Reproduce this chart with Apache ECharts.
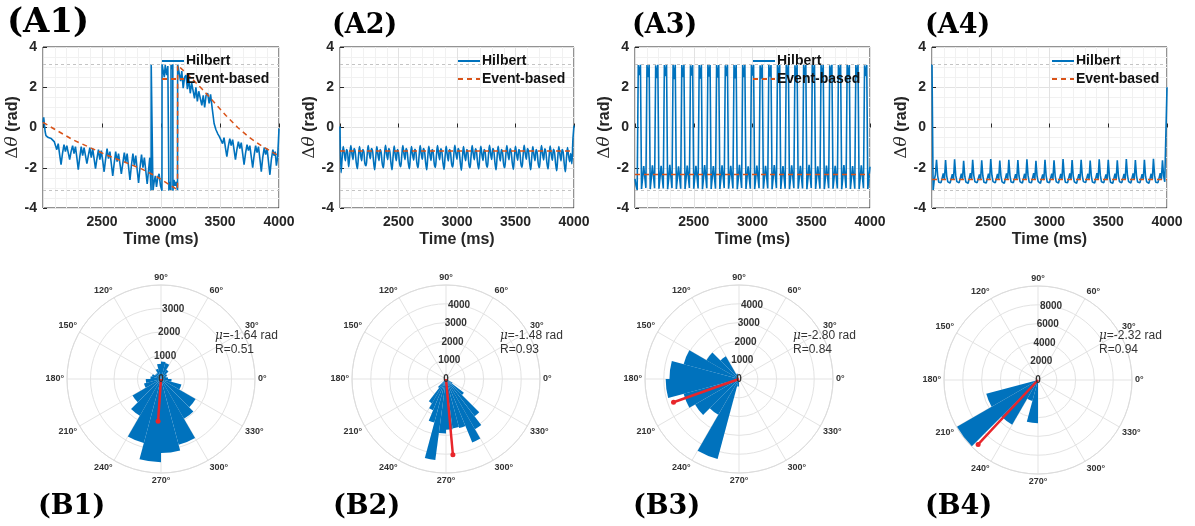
<!DOCTYPE html>
<html>
<head>
<meta charset="utf-8">
<script src="https://cdn.jsdelivr.net/npm/echarts@6/dist/echarts.min.js"></script>
<style>
  html, body { margin: 0; padding: 0; background: #fff; }
  #chart { width: 1195px; height: 526px; }
</style>
</head>
<body>
<div id="chart"></div>
<script>
// ---------- time-domain phase difference (top row) ----------
const TIME_MIN = 2000;
const TIME_MAX = 4000;
const TIME_TICK_LABELS = [2500, 3000, 3500, 4000];
const PHASE_MIN = -4, PHASE_MAX = 4, PHASE_STEP = 2;

// A1: Hilbert phase difference, [time ms, rad]
const A1_HILBERT = [
  [2000,0.25],[2006,0.5],[2012,0.45],[2018,-0.2],[2025,-0.4],[2045,-0.5],[2070,-0.55],[2095,-0.7],
  [2105,-0.75],[2117,-1.1],[2129,-0.8],[2141,-1.35],[2153,-1.85],[2165,-1.3],
  [2178,-0.85],[2190,-1.2],[2202,-0.9],[2214,-1.25],[2226,-1.6],[2238,-1.2],
  [2251,-0.9],[2263,-1.3],[2275,-0.95],[2287,-1.5],[2299,-2.1],[2311,-1.5],
  [2324,-0.95],[2336,-1.4],[2348,-1.0],[2360,-1.4],[2372,-1.8],[2384,-1.4],
  [2397,-1.0],[2409,-1.5],[2421,-1.05],[2433,-1.55],[2445,-2.05],[2457,-1.55],
  [2470,-1.1],[2482,-1.6],[2494,-1.15],[2506,-1.65],[2518,-2.2],[2530,-1.6],
  [2543,-1.05],[2555,-1.55],[2567,-1.2],[2579,-1.8],[2591,-2.4],[2603,-1.8],
  [2616,-1.2],[2628,-1.7],[2640,-1.3],[2652,-1.8],[2664,-2.3],[2676,-1.8],
  [2689,-1.25],[2701,-1.75],[2713,-1.3],[2725,-1.95],[2737,-2.6],[2749,-1.9],
  [2762,-1.3],[2774,-1.9],[2786,-1.4],[2798,-2.1],[2810,-2.75],[2822,-2.0],
  [2835,-1.35],[2847,-2.0],[2859,-1.5],[2871,-2.15],[2883,-2.8],[2895,-2.1],
  [2905,-1.5],[2912,-2.6],[2916,-3.14],[2917,3.14],[2931,3.14],[2932,-3.14],
  [2942,-2.7],[2952,-2.4],[2962,-2.95],[2972,-2.5],[2984,-2.3],[2996,-2.9],
  [3008,-3.14],[3009,3.14],[3020,3.1],[3028,2.5],[3036,3.1],[3048,2.6],[3058,3.05],
  [3066,3.14],[3067,-3.14],[3076,-2.7],[3084,-3.14],[3085,3.14],[3094,2.9],[3100,3.14],
  [3101,-3.14],[3110,-2.6],[3120,-2.9],[3130,-2.7],[3140,-3.14],[3141,3.14],
  [3155,3.1],[3166,2.3],[3176,2.8],[3188,1.95],[3200,2.5],[3212,2.6],[3224,1.9],
  [3236,2.4],[3248,1.7],[3260,2.2],[3272,2.15],[3284,1.45],[3296,2.0],[3308,1.3],
  [3320,1.8],[3334,1.8],[3346,1.1],[3358,1.6],[3370,1.0],[3382,1.6],[3396,1.7],
  [3408,1.2],[3420,1.65],[3435,0.9],[3450,0.2],[3465,-0.1],[3480,-0.3],[3495,-0.45],
  [3510,-0.45],[3522,-0.8],[3534,-0.5],[3546,-1.0],[3558,-1.45],[3570,-0.95],
  [3583,-0.55],[3595,-0.9],[3607,-0.6],[3619,-1.1],[3631,-1.6],[3643,-1.1],
  [3656,-0.7],[3668,-1.05],[3680,-0.75],[3692,-1.3],[3704,-1.85],[3716,-1.3],
  [3729,-0.85],[3741,-1.15],[3753,-0.9],[3765,-1.45],[3777,-2.0],[3789,-1.4],
  [3802,-0.9],[3814,-1.25],[3826,-0.95],[3838,-1.55],[3850,-2.2],[3862,-1.5],
  [3875,-1.0],[3887,-1.35],[3899,-1.05],[3911,-1.7],[3923,-2.35],[3935,-1.6],
  [3948,-1.1],[3958,-1.4],[3968,-1.2],[3978,-1.9],[3988,-1.5],[3995,-0.7],[4000,-0.05]
];
// A1: event-based phase difference, [time ms, rad]
const A1_EVENT = [
  [2000,0.25],[2256,-0.62],[2540,-1.37],[2825,-2.03],[2967,-2.45],[3140,-3.1],[3141,3.1],
  [3250,2.5],[3350,1.9],[3450,1.25],[3550,0.6],[3650,0.0],[3750,-0.5],[3850,-0.9],[3950,-1.25],[4000,-1.4]
];

// A2-A4: Hilbert phase difference sampled evenly over 2000-4000 ms (rad)
const A2_HILBERT = [
  0.05,-2.25,-1.5,-0.95,-1.3,-1.65,-1.1,-1.25,
  -1.95,-1.4,-0.9,-1.3,-1.6,-1.05,-1.2,-1.75,
  -2.05,-1.45,-0.95,-1.35,-1.65,-1.1,-1.2,-1.8,
  -1.9,-1.4,-0.9,-1.3,-1.55,-1.05,-1.15,-1.7,
  -2.1,-1.5,-0.95,-1.35,-1.65,-1.1,-1.25,-1.8,
  -2.0,-1.4,-0.88,-1.3,-1.6,-1.05,-1.2,-1.75,
  -2.1,-1.45,-0.92,-1.35,-1.65,-1.1,-1.25,-1.8,
  -1.95,-1.4,-0.9,-1.3,-1.6,-1.05,-1.2,-1.75,
  -2.05,-1.45,-0.95,-1.35,-1.62,-1.08,-1.22,-1.78,
  -2.0,-1.42,-0.9,-1.3,-1.58,-1.05,-1.18,-1.72,
  -2.1,-1.48,-0.93,-1.33,-1.64,-1.1,-1.24,-1.8,
  -1.98,-1.4,-0.9,-1.3,-1.6,-1.06,-1.2,-1.75,
  -2.08,-1.46,-0.94,-1.35,-1.66,-1.1,-1.24,-1.8,
  -1.96,-1.4,-0.88,-1.28,-1.58,-1.04,-1.18,-1.72,
  -2.12,-1.5,-0.95,-1.36,-1.65,-1.1,-1.25,-1.82,
  -2.0,-1.42,-0.9,-1.3,-1.6,-1.06,-1.2,-1.76,
  -2.06,-1.46,-0.93,-1.34,-1.64,-1.09,-1.23,-1.79,
  -1.97,-1.4,-0.89,-1.29,-1.59,-1.05,-1.19,-1.74,
  -2.1,-1.48,-0.94,-1.35,-1.66,-1.1,-1.25,-1.81,
  -2.0,-1.42,-0.9,-1.31,-1.6,-1.06,-1.2,-1.75,
  -2.08,-1.46,-0.93,-1.34,-1.63,-1.09,-1.23,-1.79,
  -1.97,-1.4,-0.88,-1.29,-1.58,-1.04,-1.19,-1.73,
  -2.1,-1.48,-0.95,-1.36,-1.65,-1.1,-1.25,-1.8,
  -2.0,-1.43,-0.9,-1.31,-1.61,-1.06,-1.21,-1.76,
  -2.06,-1.46,-0.92,-1.33,-1.63,-1.08,-1.23,-1.78,
  -2.15,-1.5,-0.95,-1.35,-1.66,-1.1,-1.24,-1.8,
  -2.2,-1.55,-1.0,-1.4,-1.7,-1.3,-1.8,-0.6,
  0.1
];
const A2_EVENT = -1.17;

const A3_HILBERT = [
  -2.55,-2.9,-3.1,3.1,2.6,3.12,-3.05,-2.5,
  -1.92,-2.45,-3.0,3.1,2.5,3.11,-3.06,-2.5,
  -1.88,-2.42,-3.02,3.09,2.45,3.12,-3.04,-2.48,
  -1.9,-2.47,-3.03,3.1,2.55,3.1,-3.07,-2.52,
  -1.86,-2.44,-3.01,3.11,2.4,3.12,-3.05,-2.49,
  -1.93,-2.48,-3.04,3.1,2.5,3.11,-3.06,-2.51,
  -1.89,-2.43,-3.0,3.09,2.58,3.1,-3.04,-2.47,
  -1.91,-2.46,-3.03,3.1,2.42,3.12,-3.07,-2.5,
  -1.87,-2.42,-3.02,3.11,2.52,3.11,-3.05,-2.49,
  -1.92,-2.47,-3.04,3.1,2.47,3.1,-3.06,-2.52,
  -1.88,-2.44,-3.01,3.09,2.55,3.12,-3.04,-2.48,
  -1.9,-2.45,-3.03,3.1,2.44,3.11,-3.07,-2.5,
  -1.86,-2.43,-3.0,3.11,2.5,3.1,-3.05,-2.47,
  -1.93,-2.48,-3.04,3.1,2.57,3.12,-3.06,-2.51,
  -1.89,-2.44,-3.02,3.09,2.43,3.11,-3.04,-2.49,
  -1.91,-2.46,-3.03,3.1,2.52,3.1,-3.07,-2.5,
  -1.87,-2.42,-3.01,3.11,2.46,3.12,-3.05,-2.48,
  -1.92,-2.47,-3.04,3.1,2.56,3.11,-3.06,-2.52,
  -1.88,-2.43,-3.02,3.09,2.41,3.1,-3.04,-2.49,
  -1.9,-2.45,-3.03,3.1,2.5,3.12,-3.07,-2.5,
  -1.86,-2.44,-3.0,3.11,2.54,3.11,-3.05,-2.47,
  -1.93,-2.48,-3.04,3.1,2.45,3.1,-3.06,-2.51,
  -1.89,-2.44,-3.02,3.09,2.58,3.12,-3.04,-2.49,
  -1.91,-2.46,-3.03,3.1,2.44,3.11,-3.07,-2.5,
  -1.87,-2.42,-3.01,3.11,2.52,3.1,-3.05,-2.48,
  -1.92,-2.47,-3.04,3.1,2.48,3.12,-3.06,-2.52,
  -1.88,-2.43,-3.02,3.09,2.55,3.11,-3.05,-2.49,
  -1.95
];
const A3_EVENT = -2.33;

const A4_HILBERT = [
  3.14,-3.12,-2.6,-2.35,-1.6,-2.4,-2.72,-2.78,
  -2.74,-2.7,-2.28,-2.58,-1.62,-2.4,-2.7,-2.77,
  -2.76,-2.71,-2.32,-2.6,-1.58,-2.38,-2.69,-2.78,
  -2.75,-2.7,-2.3,-2.57,-1.65,-2.42,-2.71,-2.76,
  -2.77,-2.72,-2.27,-2.59,-1.6,-2.39,-2.7,-2.78,
  -2.74,-2.69,-2.33,-2.61,-1.63,-2.41,-2.72,-2.77,
  -2.76,-2.71,-2.29,-2.58,-1.57,-2.37,-2.69,-2.78,
  -2.75,-2.7,-2.31,-2.6,-1.64,-2.4,-2.7,-2.76,
  -2.77,-2.72,-2.28,-2.57,-1.6,-2.39,-2.71,-2.78,
  -2.74,-2.7,-2.32,-2.59,-1.62,-2.41,-2.7,-2.77,
  -2.76,-2.71,-2.3,-2.6,-1.58,-2.38,-2.72,-2.78,
  -2.75,-2.69,-2.27,-2.58,-1.65,-2.42,-2.69,-2.76,
  -2.77,-2.72,-2.33,-2.61,-1.6,-2.39,-2.71,-2.78,
  -2.74,-2.7,-2.29,-2.57,-1.63,-2.4,-2.7,-2.77,
  -2.76,-2.71,-2.31,-2.6,-1.57,-2.37,-2.72,-2.78,
  -2.75,-2.7,-2.28,-2.59,-1.62,-2.41,-2.7,-2.76,
  -2.77,-2.72,-2.32,-2.58,-1.6,-2.39,-2.69,-2.78,
  -2.74,-2.69,-2.3,-2.6,-1.64,-2.42,-2.71,-2.77,
  -2.76,-2.71,-2.27,-2.57,-1.58,-2.38,-2.7,-2.78,
  -2.75,-2.7,-2.33,-2.61,-1.61,-2.4,-2.72,-2.76,
  -2.77,-2.72,-2.29,-2.58,-1.63,-2.41,-2.7,-2.78,
  -2.74,-2.7,-2.31,-2.59,-1.57,-2.37,-2.69,-2.77,
  -2.76,-2.71,-2.28,-2.6,-1.62,-2.39,-2.71,-2.78,
  -2.75,-2.69,-2.32,-2.57,-1.6,-2.42,-2.7,-2.76,
  -2.77,-2.72,-2.3,-2.59,-1.55,-2.38,-2.72,-2.78,
  -2.74,-2.7,-2.27,-2.6,-1.63,-2.4,-2.7,-2.72,
  2.0
];
const A4_EVENT = -2.58;

// ---------- phase-difference histograms (bottom row) ----------
// counts per bin, bins start at 0 deg and run counter-clockwise
const B1_BIN_DEG = 15;
const B1_COUNTS = [300,250,300,450,700,750,650,450,300,300,400,450,650,750,1400,1800,2820,3540,3150,2900,1950,1700,900,450];
const B1_RMAX = 4000, B1_RSTEP = 1000, B1_MU = -1.64, B1_R = 0.51;

const B2_BIN_DEG = 7.5;
const B2_COUNTS = [0,0,0,0,0,0,0,0,0,0,0,0,0,0,0,0,0,0,0,0,0,0,0,0,0,0,0,0,0,0,
  600,1500,1800,2400,4350,2900,2700,2650,2700,3650,3080,2500,1200,400,0,0,0,0];
const B2_RMAX = 5000, B2_RSTEP = 1000, B2_MU = -1.48, B2_R = 0.93;

const B3_BIN_DEG = 15;
const B3_COUNTS = [0,0,0,0,0,0,0,300,1400,2000,3050,3700,3900,3050,2700,2200,4400,400,0,0,0,0,0,0];
const B3_RMAX = 5000, B3_RSTEP = 1000, B3_MU = -2.80, B3_R = 0.84;

const B4_BIN_DEG = 15;
const B4_COUNTS = [0,0,0,0,0,0,0,0,0,0,0,0,0,5700,9950,5500,2300,4600,0,0,0,0,0,0];
const B4_RMAX = 10000, B4_RSTEP = 2000, B4_MU = -2.32, B4_R = 0.94;

const PANEL_LABELS_TOP = ['(A1)', '(A2)', '(A3)', '(A4)'];
const PANEL_LABELS_BOTTOM = ['(B1)', '(B2)', '(B3)', '(B4)'];

// ---------- build ----------
const BLUE = '#0072BD', ORANGE = '#D95319', RED = '#E8262B', INK = '#262626';
const SANS = '"Liberation Sans", Arial, Helvetica, sans-serif';
const SERIF = '"DejaVu Serif", serif';

function sampled(values) {
  const step = (TIME_MAX - TIME_MIN) / (values.length - 1);
  return values.map((v, i) => [TIME_MIN + i * step, v]);
}
function flat(v) { return [[TIME_MIN, v], [TIME_MAX, v]]; }

const topPanels = [
  { hilbert: A1_HILBERT, event: A1_EVENT, smooth: false },
  { hilbert: sampled(A2_HILBERT), event: flat(A2_EVENT), smooth: 0.35 },
  { hilbert: sampled(A3_HILBERT), event: flat(A3_EVENT), smooth: false },
  { hilbert: sampled(A4_HILBERT), event: flat(A4_EVENT), smooth: false }
];
const gridBoxes = [
  { left: 43, width: 236 }, { left: 340, width: 234 },
  { left: 635, width: 235 }, { left: 932, width: 235 }
];
const legendLefts = [161, 457, 752, 1051];
const topLabelStyle = [
  { left: 7, top: 6, size: 34 }, { left: 332, top: 12, size: 27 },
  { left: 632, top: 12, size: 27 }, { left: 925, top: 12, size: 27 }
];
const labelLeftsBottom = [38, 333, 633, 925];

const grid = [], xAxis = [], yAxis = [], legend = [], series = [], graphic = [];

topPanels.forEach((p, i) => {
  grid.push({ left: gridBoxes[i].left, width: gridBoxes[i].width, top: 47, height: 161,
    show: true, borderColor: INK, borderWidth: 1, backgroundColor: '#fff' });
  xAxis.push({
    gridIndex: i, type: 'value', min: TIME_MIN, max: TIME_MAX, interval: 500,
    axisLine: { show: false },
    axisTick: { show: true, inside: true, length: 4, lineStyle: { color: INK } },
    axisLabel: { formatter: v => TIME_TICK_LABELS.includes(v) ? String(v) : '',
      fontSize: 14, fontWeight: 'bold', color: INK, fontFamily: SANS, margin: 7 },
    splitLine: { show: true, lineStyle: { color: '#e2e2e2', width: 1 } },
    minorTick: { show: false, splitNumber: 5 },
    minorSplitLine: { show: true, lineStyle: { color: '#f1f1f1', width: 1 } },
    name: 'Time (ms)', nameLocation: 'middle', nameGap: 24,
    nameTextStyle: { fontSize: 16, fontWeight: 'bold', color: INK, fontFamily: SANS }
  });
  yAxis.push({
    gridIndex: i, type: 'value', min: PHASE_MIN, max: PHASE_MAX, interval: PHASE_STEP,
    axisLine: { show: false },
    axisTick: { show: true, inside: true, length: 4, lineStyle: { color: INK } },
    axisLabel: { fontSize: 14, fontWeight: 'bold', color: INK, fontFamily: SANS, margin: 6 },
    splitLine: { show: true, lineStyle: { color: '#e2e2e2', width: 1 } },
    minorTick: { show: false, splitNumber: 4 },
    minorSplitLine: { show: true, lineStyle: { color: '#f1f1f1', width: 1 } },
    name: '{d|Δ}{t|θ}{r| (rad)}', nameLocation: 'middle', nameGap: 21, nameRotate: 90,
    nameTextStyle: { rich: {
      d: { fontSize: 17, color: INK, fontFamily: SERIF },
      t: { fontSize: 17, color: INK, fontStyle: 'italic', fontFamily: SERIF },
      r: { fontSize: 16, fontWeight: 'bold', color: INK, fontFamily: SANS }
    } }
  });
  series.push({
    name: 'pi-guides', type: 'line', xAxisIndex: i, yAxisIndex: i, data: [], z: 1, silent: true,
    markLine: { silent: true, symbol: 'none', label: { show: false },
      lineStyle: { type: [3, 3], color: '#c4c4c4', width: 1 },
      data: [{ yAxis: Math.PI }, { yAxis: -Math.PI }] }
  });
  series.push({
    name: 'Hilbert', type: 'line', xAxisIndex: i, yAxisIndex: i, data: p.hilbert,
    symbol: 'none', smooth: p.smooth, z: 2,
    lineStyle: { color: BLUE, width: 1.6 }, itemStyle: { color: BLUE, opacity: 0 }
  });
  series.push({
    name: 'Event-based', type: 'line', xAxisIndex: i, yAxisIndex: i, data: p.event,
    symbol: 'none', z: 3,
    lineStyle: { color: ORANGE, width: 1.5, type: [5, 4] }, itemStyle: { color: ORANGE, opacity: 0 }
  });
  legend.push({
    left: legendLefts[i], top: 54, orient: 'vertical', padding: 0, itemGap: 4,
    itemWidth: 22, itemHeight: 14, data: ['Hilbert', 'Event-based'],
    itemStyle: { opacity: 0 },
    textStyle: { fontSize: 14, fontWeight: 'bold', color: '#111', fontFamily: SANS, padding: [0, 0, 0, -3] }
  });
  const ls = topLabelStyle[i];
  graphic.push({ type: 'text', left: ls.left, top: ls.top,
    style: { text: PANEL_LABELS_TOP[i], font: 'bold ' + ls.size + 'px ' + SERIF, fill: '#000' } });
  graphic.push({ type: 'text', left: labelLeftsBottom[i], top: 493,
    style: { text: PANEL_LABELS_BOTTOM[i], font: 'bold 27px ' + SERIF, fill: '#000' } });
});

// polar histograms
const roses = [
  { counts: B1_COUNTS, bin: B1_BIN_DEG, rmax: B1_RMAX, rstep: B1_RSTEP, mu: B1_MU, R: B1_R },
  { counts: B2_COUNTS, bin: B2_BIN_DEG, rmax: B2_RMAX, rstep: B2_RSTEP, mu: B2_MU, R: B2_R },
  { counts: B3_COUNTS, bin: B3_BIN_DEG, rmax: B3_RMAX, rstep: B3_RSTEP, mu: B3_MU, R: B3_R },
  { counts: B4_COUNTS, bin: B4_BIN_DEG, rmax: B4_RMAX, rstep: B4_RSTEP, mu: B4_MU, R: B4_R }
];
const roseCenters = [[161, 379], [446, 379], [739, 379], [1038, 380]];
const roseRadius = 94;
const statLefts = [215, 500, 793, 1099];

const polar = [], angleAxis = [], radiusAxis = [];
const hidden = { axisLine: { show: false }, axisTick: { show: false }, axisLabel: { show: false }, splitLine: { show: false } };

roses.forEach((r, k) => {
  const base = 3 * k;
  for (let j = 0; j < 3; j++) polar.push({ center: roseCenters[k], radius: roseRadius });

  // grid polar: angle spokes, rings, angle labels, mean vector
  angleAxis.push({ polarIndex: base, type: 'value', min: 0, max: 360, interval: 30,
    startAngle: 0, clockwise: false,
    axisLine: { show: true, lineStyle: { color: '#dcdcdc', width: 1 } },
    axisTick: { show: false },
    axisLabel: { formatter: v => v >= 360 ? '' : v + '°', fontSize: 9, fontWeight: 'bold', color: '#333', fontFamily: SANS, margin: 3 },
    splitLine: { show: true, lineStyle: { color: '#e3e3e3', width: 1 } } });
  radiusAxis.push({ polarIndex: base, type: 'value', min: 0, max: r.rmax, interval: r.rstep,
    axisLine: { show: false }, axisTick: { show: false }, axisLabel: { show: false },
    splitLine: { show: true, lineStyle: { color: '#e3e3e3', width: 1 } } });

  // bar polar: one wedge per bin
  angleAxis.push(Object.assign({ polarIndex: base + 1, type: 'category',
    data: r.counts.map((_, i) => (i * r.bin) + '°'), startAngle: 0, clockwise: false, boundaryGap: true }, hidden));
  radiusAxis.push(Object.assign({ polarIndex: base + 1, type: 'value', min: 0, max: r.rmax }, hidden));

  // label polar: radial tick labels along the 80 deg direction
  angleAxis.push(Object.assign({ polarIndex: base + 2, type: 'value', min: 0, max: 360, startAngle: 80 }, hidden));
  radiusAxis.push({ polarIndex: base + 2, type: 'value', min: 0, max: r.rmax, interval: r.rstep, z: 10,
    axisLine: { show: false }, axisTick: { show: false }, splitLine: { show: false },
    axisLabel: { formatter: v => v >= r.rmax ? '' : String(v), fontSize: 10, fontWeight: 'bold',
      color: '#333', fontFamily: SANS, margin: 0, align: 'center', verticalAlign: 'middle' } });

  series.push({ name: 'hist' + k, type: 'bar', coordinateSystem: 'polar', polarIndex: base + 1,
    data: r.counts, barCategoryGap: '0%', barGap: '0%', z: 2,
    itemStyle: { color: BLUE } });

  // mean resultant vector: direction mu, length R x tallest bin
  let muDeg = r.mu * 180 / Math.PI;
  if (muDeg < 0) muDeg += 360;
  const len = r.R * Math.max(...r.counts);
  series.push({ name: 'mean' + k, type: 'line', coordinateSystem: 'polar', polarIndex: base, z: 5,
    data: [{ value: [0, muDeg], symbol: 'none' }, { value: [len, muDeg], symbol: 'circle', symbolSize: 5 }],
    lineStyle: { color: RED, width: 2.5 }, itemStyle: { color: RED } });

  graphic.push({ type: 'text', left: statLefts[k], top: 329, z: 20,
    style: { text: '{m|μ}=' + r.mu.toFixed(2) + ' rad\nR=' + r.R.toFixed(2),
      font: '12px ' + SANS, fill: '#333', lineHeight: 14,
      rich: { m: { fontStyle: 'italic', fontSize: 12, fontFamily: SERIF, fill: '#333' } } } });
});

const chart = echarts.init(document.getElementById('chart'), null, { renderer: 'canvas' });
chart.setOption({
  animation: false,
  backgroundColor: '#fff',
  grid, xAxis, yAxis, legend, polar, angleAxis, radiusAxis, series, graphic
});
</script>
</body>
</html>
